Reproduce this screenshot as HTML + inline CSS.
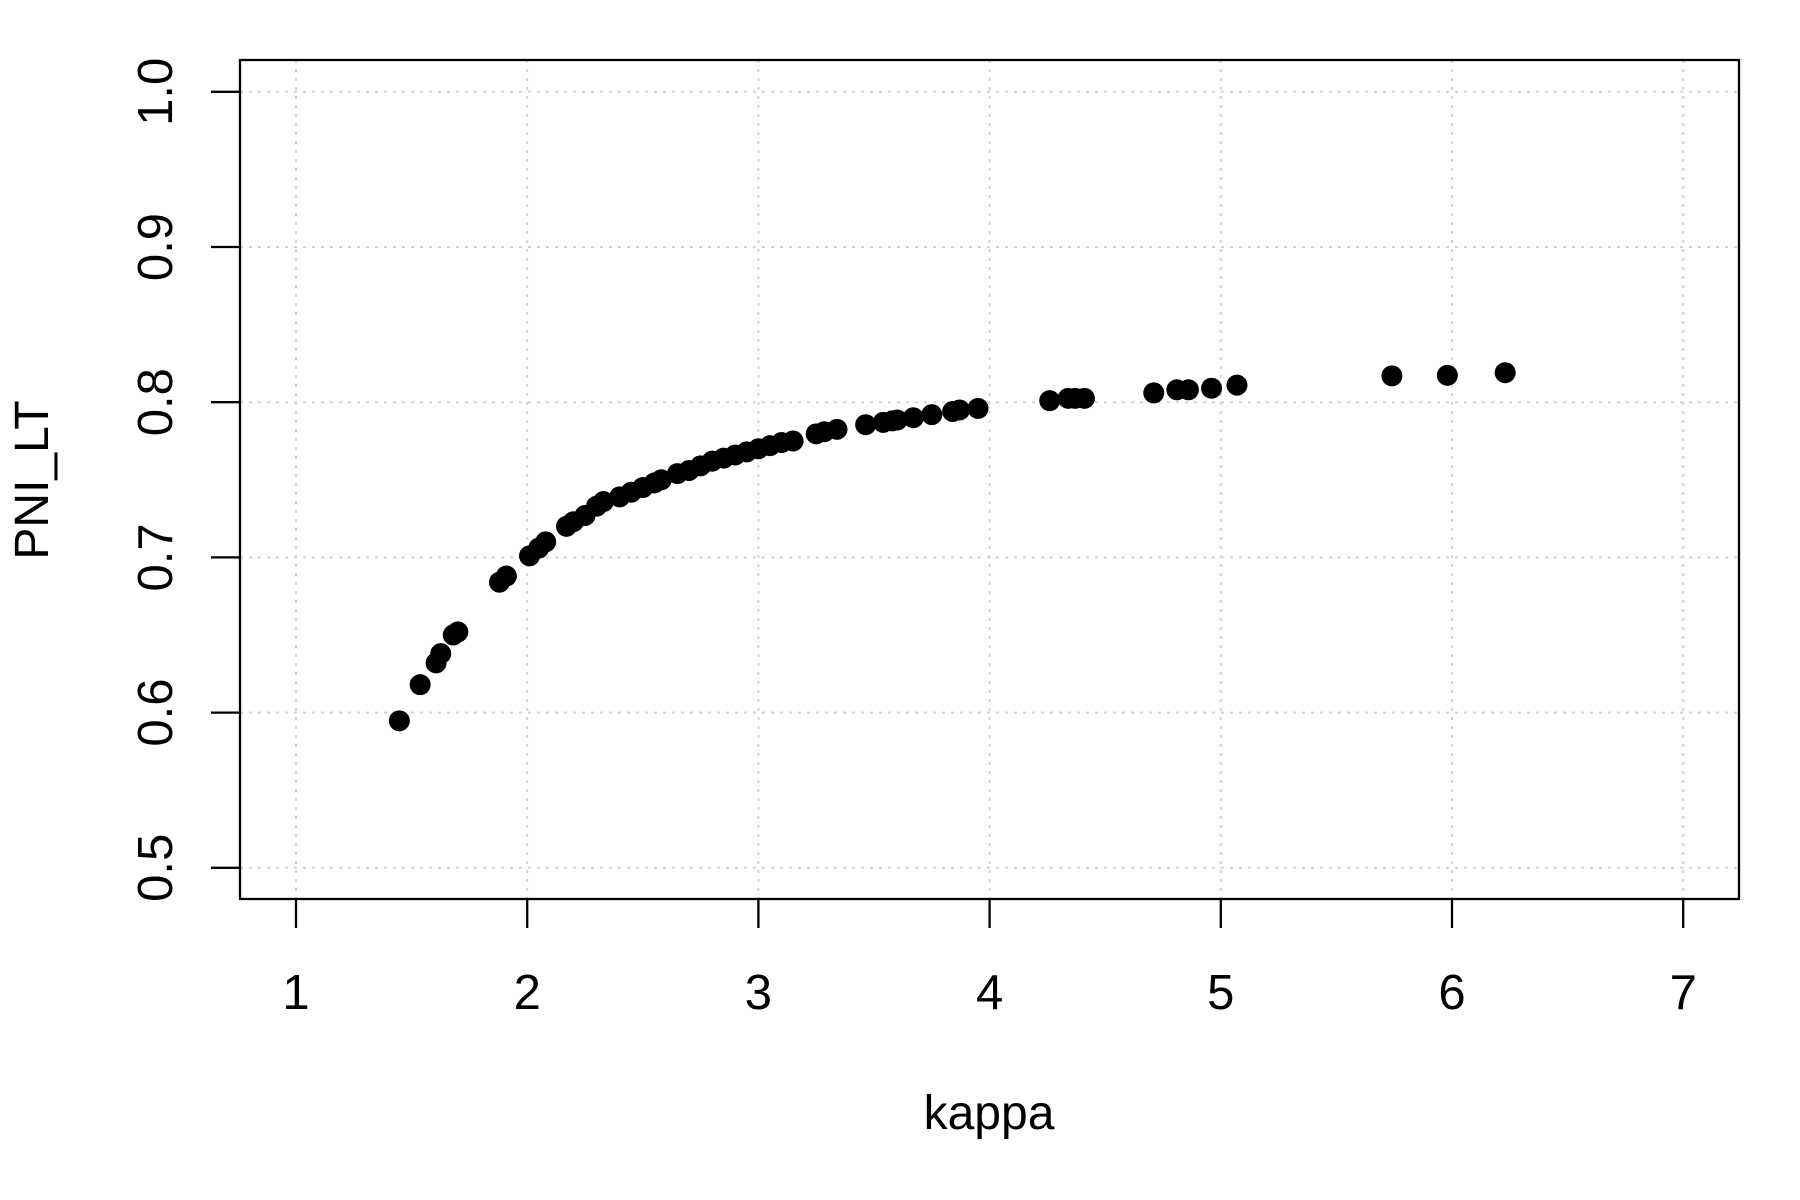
<!DOCTYPE html>
<html><head><meta charset="utf-8"><style>
html,body{margin:0;padding:0;background:#fff;}
svg{display:block;font-family:"Liberation Sans",Arial,sans-serif;}
</style></head><body>
<svg id="chart" width="1800" height="1200" viewBox="0 0 1800 1200">
<g id="grid"></g>
<g id="axes"></g>
<g id="points"></g>
<rect x="240" y="60" width="1499" height="839" fill="none" stroke="#000" stroke-width="2.3"/>
<text x="989" y="1129" font-size="48" text-anchor="middle">kappa</text>
<text transform="translate(48,480) rotate(-90)" font-size="48" text-anchor="middle">PNI_LT</text>
</svg>
<script>
const kappa=[1.447,1.537,1.606,1.626,1.68,1.70,1.88,1.91,2.01,2.05,2.08,2.17,2.20,2.25,2.30,2.33,2.40,2.45,2.50,2.55,2.58,2.65,2.70,2.75,2.80,2.85,2.90,2.95,3.00,3.05,3.10,3.15,3.25,3.285,3.34,3.464,3.54,3.58,3.60,3.67,3.75,3.84,3.87,3.95,4.26,4.34,4.37,4.41,4.71,4.81,4.86,4.96,5.07,5.74,5.98,6.23];
const pni=[0.5947,0.618,0.632,0.638,0.650,0.652,0.684,0.688,0.701,0.706,0.710,0.720,0.723,0.727,0.733,0.736,0.739,0.742,0.745,0.748,0.750,0.754,0.756,0.759,0.762,0.764,0.766,0.768,0.770,0.772,0.774,0.775,0.7796,0.781,0.7825,0.7855,0.787,0.788,0.7885,0.790,0.792,0.794,0.795,0.796,0.801,0.8025,0.8025,0.8025,0.806,0.808,0.808,0.809,0.811,0.817,0.8173,0.819];
const xTicks=[1,2,3,4,5,6,7];
const yTicks=[0.5,0.6,0.7,0.8,0.9,1.0];
const yTickLabels=["0.5","0.6","0.7","0.8","0.9","1.0"];
const NS="http://www.w3.org/2000/svg";
function xs(v){return 296+(v-1)*231.2;}
function ys(v){return 91.8+(1-v)*1552;}
function mk(tag,attrs,parent){const e=document.createElementNS(NS,tag);for(const k in attrs)e.setAttribute(k,attrs[k]);parent.appendChild(e);return e;}
const grid=document.getElementById('grid'),axes=document.getElementById('axes'),pts=document.getElementById('points');
xTicks.forEach(t=>{
  const g=mk('line',{x1:xs(t),x2:xs(t),y1:60,y2:899,stroke:'#d3d3d3','stroke-width':2,'stroke-dasharray':'3,6'},grid);
  
  
  const tk=mk('line',{x1:xs(t),x2:xs(t),y1:899,y2:928,stroke:'#000','stroke-width':2.3},axes);
  
  
  const tl=mk('text',{x:xs(t),y:1009,'font-size':49,'text-anchor':'middle'},axes);
  tl.textContent=String(t);
  
  
});
yTicks.forEach((t,i)=>{
  const g=mk('line',{x1:240,x2:1739,y1:ys(t),y2:ys(t),stroke:'#d3d3d3','stroke-width':2,'stroke-dasharray':'3,6'},grid);
  
  
  const tk=mk('line',{x1:211,x2:240,y1:ys(t),y2:ys(t),stroke:'#000','stroke-width':2.3},axes);
  
  
  const tl=mk('text',{transform:'translate(172,'+ys(t)+') rotate(-90)','font-size':49,'text-anchor':'middle'},axes);
  tl.textContent=yTickLabels[i];
  
  
});
kappa.forEach((k,i)=>{
  const c=mk('circle',{cx:xs(k),cy:ys(pni[i]),r:10.5,fill:'#000'},pts);
  
  
});
</script>
</body></html>
